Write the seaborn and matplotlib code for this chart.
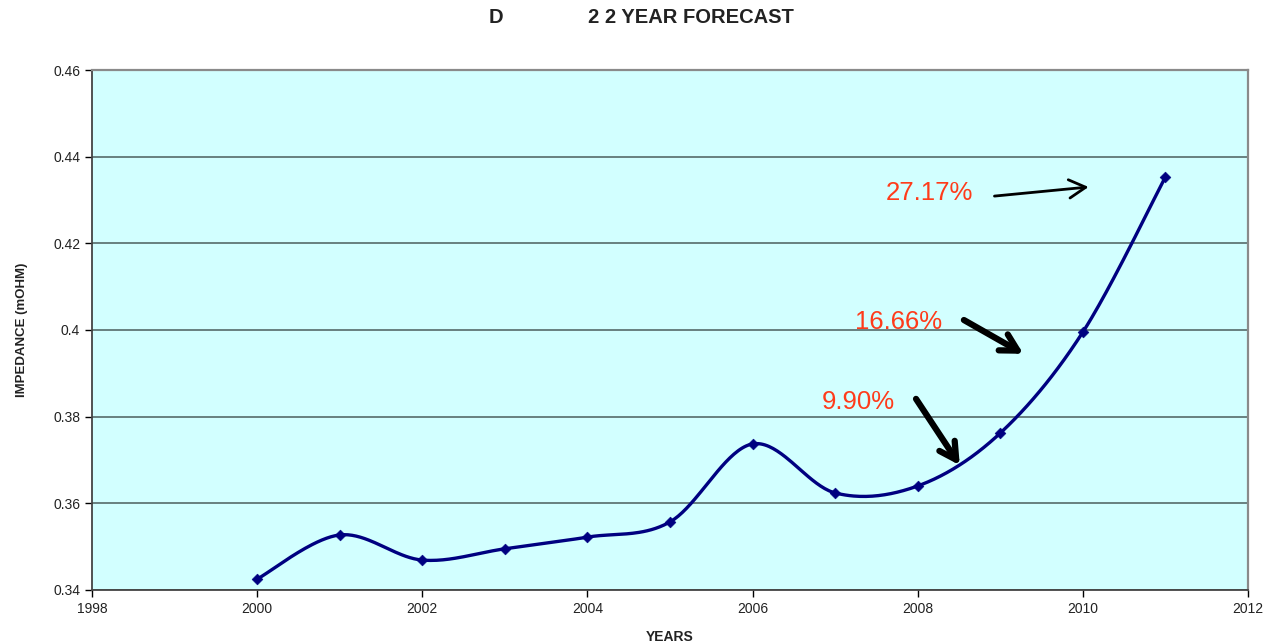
import numpy as np
import pandas as pd
import matplotlib
matplotlib.use("Agg")
import matplotlib.pyplot as plt
import seaborn as sns

# Measured impedance by year
years = [2000, 2001, 2002, 2003, 2004, 2005, 2006, 2007, 2008, 2009, 2010, 2011]
impedance = [0.3425, 0.3527, 0.3469, 0.3495, 0.3522, 0.3557, 0.3737, 0.3624,
             0.3640, 0.3762, 0.3995, 0.4353]

# Growth annotations: label, label position, arrow tail, arrow head
notes = ["27.17%", "16.66%", "9.90%"]
note_xy = [(2008.14, 0.4316), (2007.77, 0.4018), (2007.28, 0.3834)]
arrow_from = [(2008.93, 0.4309), (2008.56, 0.4023), (2007.98, 0.3841)]
arrow_to = [(2010.07, 0.4330), (2009.28, 0.3945), (2008.51, 0.3688)]
arrow_width = [2.0, 4.5, 4.5]

yticks = [0.34, 0.36, 0.38, 0.40, 0.42, 0.44, 0.46]
ytick_labels = ["0.34", "0.36", "0.38", "0.4", "0.42", "0.44", "0.46"]
xticks = [1998, 2000, 2002, 2004, 2006, 2008, 2010, 2012]


def smooth(x, y, n=40):
    """Catmull-Rom style Bezier smoothing through every point."""
    x = np.asarray(x, float)
    y = np.asarray(y, float)
    px = np.concatenate([[x[0]], x, [x[-1]]])
    py = np.concatenate([[y[0]], y, [y[-1]]])
    xs, ys = [], []
    for i in range(1, len(px) - 2):
        p0 = np.array([px[i - 1], py[i - 1]])
        p1 = np.array([px[i], py[i]])
        p2 = np.array([px[i + 1], py[i + 1]])
        p3 = np.array([px[i + 2], py[i + 2]])
        c1 = p1 + (p2 - p0) / 6.0
        c2 = p2 - (p3 - p1) / 6.0
        t = np.linspace(0, 1, n, endpoint=(i == len(px) - 3))[:, None]
        pts = ((1 - t) ** 3) * p1 + 3 * ((1 - t) ** 2) * t * c1 \
            + 3 * (1 - t) * t ** 2 * c2 + t ** 3 * p2
        xs.append(pts[:, 0])
        ys.append(pts[:, 1])
    return np.concatenate(xs), np.concatenate(ys)


sx, sy = smooth(years, impedance)
curve = pd.DataFrame({"year": sx, "impedance": sy})
points = pd.DataFrame({"year": years, "impedance": impedance})

sns.set_theme(style="white")
plt.rcParams["font.family"] = ["Liberation Sans", "DejaVu Sans"]

fig = plt.figure(figsize=(12.72, 6.44), dpi=100)
ax = fig.add_axes([0.0723, 0.0839, 0.9088, 0.8074])
ax.set_facecolor("#d2ffff")

line_color = "#000080"
sns.lineplot(data=curve, x="year", y="impedance", ax=ax, color=line_color,
             linewidth=2.4, sort=False, estimator=None)
sns.scatterplot(data=points, x="year", y="impedance", ax=ax, color=line_color,
                marker="D", s=30, edgecolor=line_color, zorder=4)

ax.set_xlim(1998, 2012)
ax.set_ylim(0.34, 0.46)
ax.set_xticks(xticks)
ax.set_xticklabels([str(v) for v in xticks])
ax.set_yticks(yticks)
ax.set_yticklabels(ytick_labels)
ax.yaxis.grid(True, color="#5f7675", linewidth=1.3)
ax.set_axisbelow(True)
ax.tick_params(axis="both", direction="out", length=5, width=1, colors="black",
               labelsize=10, labelcolor="#222222", bottom=True, left=True)

for side in ["left", "bottom"]:
    ax.spines[side].set_color("#444444")
    ax.spines[side].set_linewidth(1.3)
for side in ["top", "right"]:
    ax.spines[side].set_color("#8a8a8a")
    ax.spines[side].set_linewidth(1.6)

ax.set_xlabel("YEARS", fontsize=10, fontweight="bold", color="#222222", labelpad=10)
ax.set_ylabel("IMPEDANCE (mOHM)", fontsize=9.5, fontweight="bold", color="#222222",
              labelpad=18)

for label, (tx, ty), start, end, lw in zip(notes, note_xy, arrow_from, arrow_to, arrow_width):
    ax.text(tx, ty, label, color="#ff3b1a", fontsize=18.5, ha="center", va="center")
    ax.annotate("", xy=end, xytext=start,
                arrowprops=dict(arrowstyle="->,head_length=1.0,head_width=0.55",
                                color="black", linewidth=lw, shrinkA=0, shrinkB=0,
                                mutation_scale=12))

fig.text(0.384, 0.973, "D", fontsize=14.5, fontweight="bold", color="#222222",
         ha="left", va="center")
fig.text(0.624, 0.973, "2 2 YEAR FORECAST", fontsize=14.5, fontweight="bold",
         color="#222222", ha="right", va="center")

fig.savefig("out.png", dpi=100, facecolor="white")
